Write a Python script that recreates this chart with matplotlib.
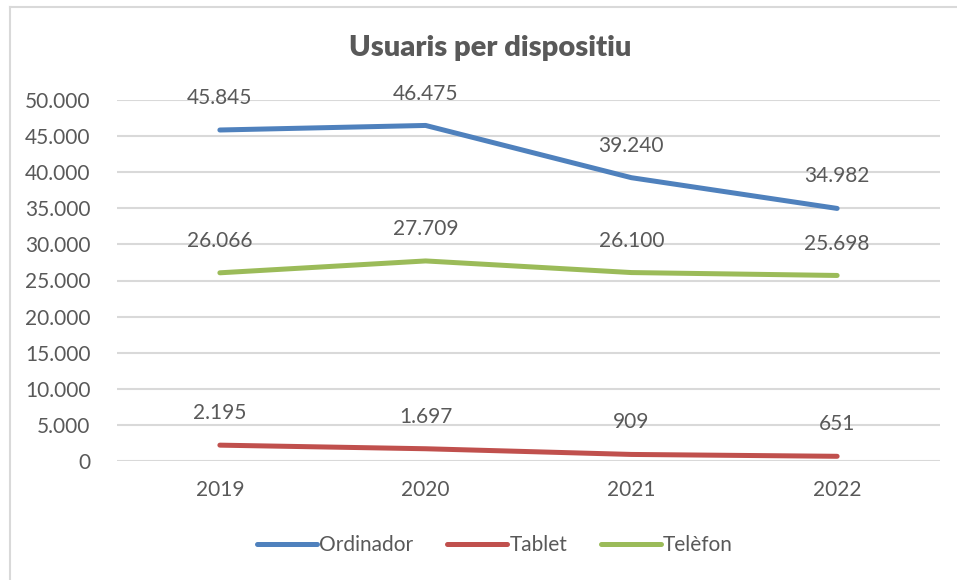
import matplotlib.pyplot as plt
from matplotlib.lines import Line2D

years = ["2019", "2020", "2021", "2022"]
ordinador = [45845, 46475, 39240, 34982]
tablet = [2195, 1697, 909, 651]
telefon = [26066, 27709, 26100, 25698]
series_names = ["Ordinador", "Tablet", "Telèfon"]
colors = ["#4F81BD", "#C0504D", "#9BBB59"]

txt = "#595959"
plt.rcParams['font.family'] = ['Lato', 'DejaVu Sans']

def fmt(v):
    # thousands separator with a dot
    return f"{v:,}".replace(",", ".")

fig = plt.figure(figsize=(9.57, 5.8), dpi=100)
ax = fig.add_axes([117/957, 119/580, 823/957, 361/580])

x = range(len(years))
for vals, c in zip([ordinador, tablet, telefon], colors):
    ax.plot(x, vals, color=c, lw=3.6, solid_capstyle='round')
    for xi, v in zip(x, vals):
        ax.annotate(fmt(v), (xi, v), xytext=(0, 23), textcoords='offset points',
                    ha='center', va='center', fontsize=15, color=txt, annotation_clip=False)

ax.set_xlim(-0.5, 3.5)
ax.set_ylim(0, 50000)
ax.set_yticks(range(0, 50001, 5000))
ax.set_yticklabels([fmt(v) for v in range(0, 50001, 5000)])
ax.set_xticks(list(x))
ax.set_xticklabels(years)
ax.tick_params(length=0, labelsize=15, labelcolor=txt)
ax.tick_params(axis='y', pad=19)
ax.tick_params(axis='x', pad=14)
ax.grid(axis='y', color="#D9D9D9", lw=1.5)
ax.set_axisbelow(True)
for s in ax.spines.values():
    s.set_visible(False)

fig.text(490/957, 1 - 48/580, "Usuaris per dispositiu", ha='center', va='center',
         fontsize=21, fontweight='heavy', color=txt)

handles = [Line2D([], [], color=c, lw=3.6, solid_capstyle='round') for c in colors]
fig.legend(handles, series_names, loc='center', bbox_to_anchor=(495/957, 1 - 545/580),
           ncol=3, frameon=False, fontsize=15, labelcolor=txt, handlelength=2.9,
           handletextpad=0.1, columnspacing=1.6)

# chart frame
fig.add_artist(Line2D([10/957, 10/957], [0, 1 - 7/580], color="#D9D9D9", lw=1.5))
fig.add_artist(Line2D([10/957, 1], [1 - 7/580, 1 - 7/580], color="#D9D9D9", lw=1.5))

fig.savefig("out.png", dpi=100)
